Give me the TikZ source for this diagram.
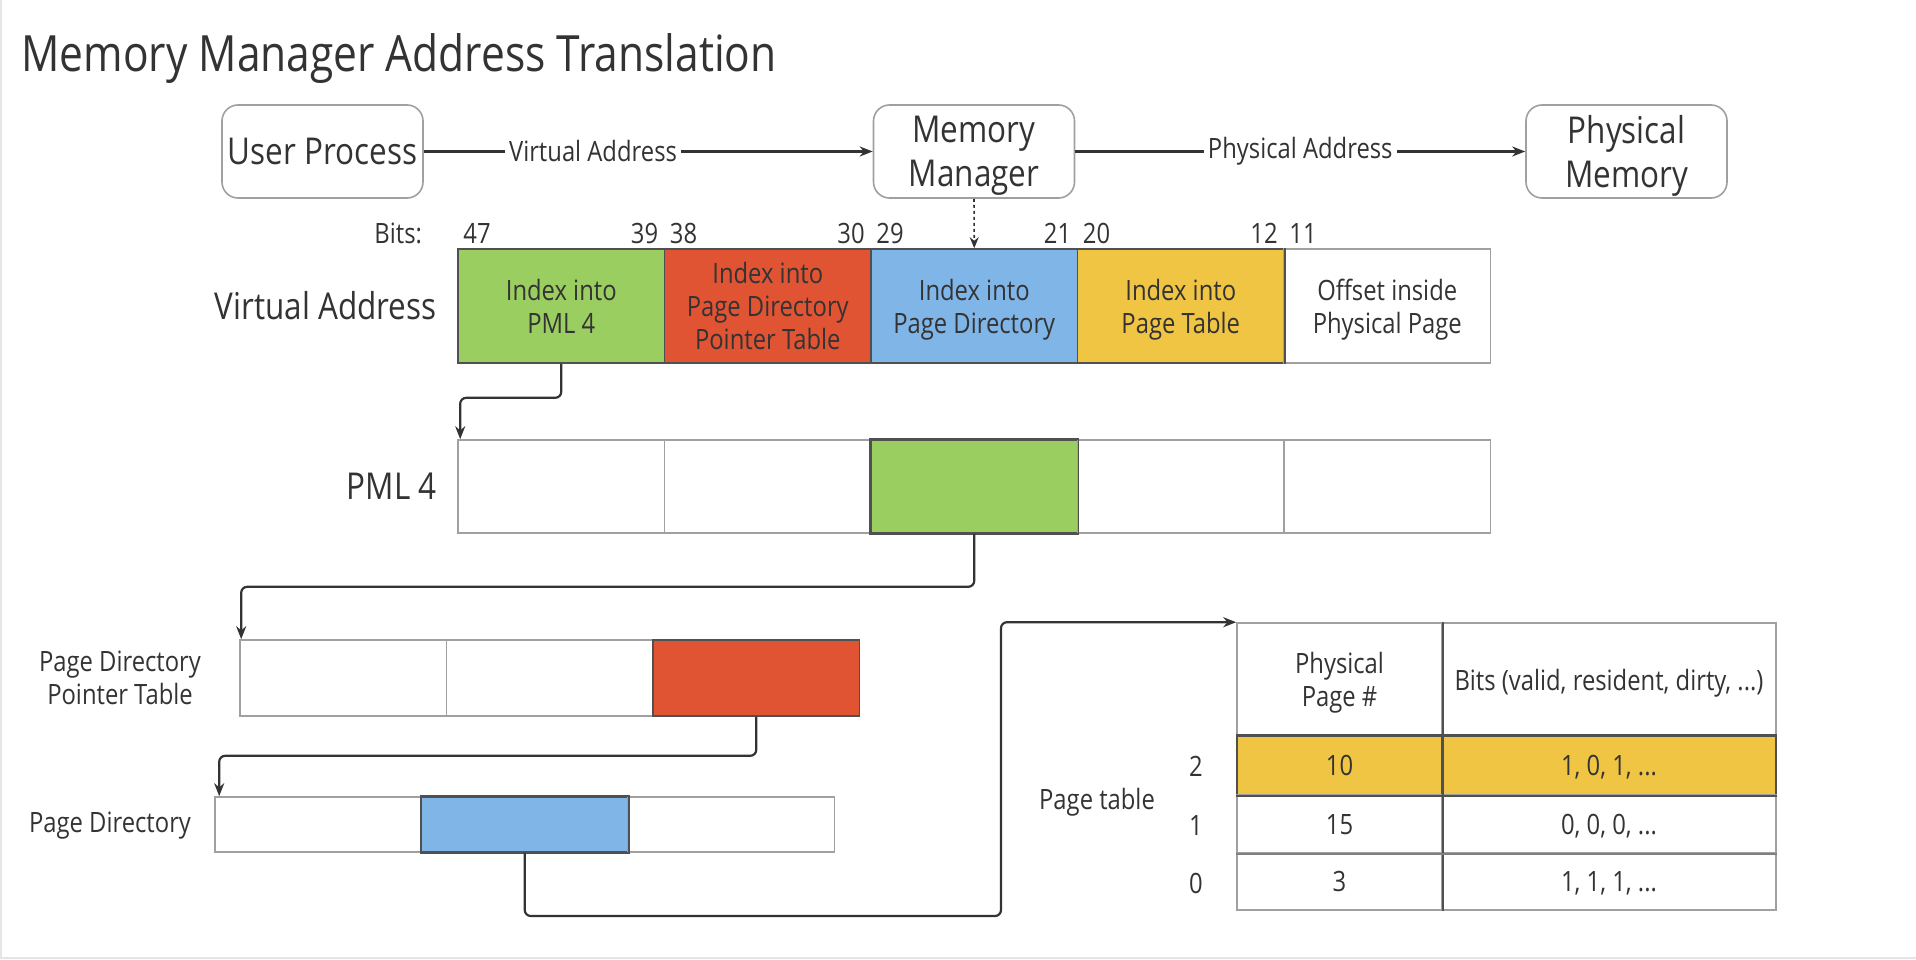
\documentclass[tikz,border=0pt]{standalone}
\usepackage{fontspec}
\setmainfont{Open Sans}[FakeStretch=0.85]
\usetikzlibrary{arrows.meta}
\definecolor{cgreen}{HTML}{9BCE60}
\definecolor{cred}{HTML}{E05434}
\definecolor{cblue}{HTML}{80B5E8}
\definecolor{cyellow}{HTML}{F1C544}
\definecolor{ink}{HTML}{333333}
\definecolor{wline}{HTML}{A0A0A0}
\definecolor{dline}{HTML}{505050}
\begin{document}
\begin{tikzpicture}[x=1pt,y=-1pt,
  small/.style={font=\fontsize{28}{33}\selectfont, text=ink},
  mid/.style={font=\fontsize{37}{44}\selectfont, text=ink},
  procbox/.style={draw=wline, line width=1.6pt, rounded corners=16pt, minimum width=201pt, minimum height=93pt, inner sep=0pt, align=center, text depth=0pt, mid},
  cellw/.style={draw=wline, line width=1.6pt, fill=white, inner sep=0pt, align=center, text depth=0pt, small},
  cellc/.style={draw=dline, line width=1.6pt, inner sep=0pt, align=center, text depth=0pt, small},
  vacell/.style={minimum width=206.5pt, minimum height=114pt},
  pmcell/.style={minimum width=206.5pt, minimum height=93pt},
  ptcell/.style={minimum width=206.5pt, minimum height=76pt},
  pdcell/.style={minimum width=206.5pt, minimum height=55pt},
  conn/.style={draw=ink, line width=2.2pt, rounded corners=6pt, -{Stealth[length=13pt,width=10pt]}},
  elab/.style={fill=white, inner sep=4pt, small},
  bitnum/.style={small, inner sep=0pt}
]
\useasboundingbox (0,0) rectangle (1916,960);
\draw[gray!20, line width=2pt] (1,0) -- (1,958) -- (1916,958);

\node[anchor=west, font=\fontsize{50}{60}\selectfont, text=ink] (title) at (18,59) {Memory Manager Address Translation};

% top process boxes
\node[procbox] (up) at (322.5,151.5) {User Process};
\node[procbox] (mm) at (974,151.5) {Memory\\Manager};
\node[procbox] (pm) at (1626.5,151.5) {Physical\\Memory};
\draw[conn, rounded corners=0pt] (up.east) -- node[elab, pos=0.377]{Virtual Address} (mm.west);
\draw[conn, rounded corners=0pt] (mm.east) -- node[elab]{Physical Address} (pm.west);

% virtual address row
\node[cellc, vacell, fill=cgreen] (va1) at (561.25,306) {Index into\\PML 4};
\node[cellc, vacell, fill=cred] (va2) at (767.75,306) {Index into\\Page Directory\\Pointer Table};
\node[cellc, vacell, fill=cblue] (va3) at (974.25,306) {Index into\\Page Directory};
\node[cellc, vacell, fill=cyellow] (va4) at (1180.75,306) {Index into\\Page Table};
\node[cellw, vacell] (va5) at (1387.25,306) {Offset inside\\Physical Page};
\draw[dline, line width=1.6pt] (va4.north east) -- (va4.south east);
\node[mid, anchor=east] (valab) at (440,306) {Virtual Address};

% bit numbers
\node[bitnum, anchor=base east] (bits) at ([xshift=-35pt,yshift=5pt]va1.north west) {Bits:};
\node[bitnum, anchor=base west] (b47) at ([xshift=6pt,yshift=5pt]va1.north west) {47};
\node[bitnum, anchor=base east] (b39) at ([xshift=-7pt,yshift=5pt]va1.north east) {39};
\node[bitnum, anchor=base west] (b38) at ([xshift=6pt,yshift=5pt]va2.north west) {38};
\node[bitnum, anchor=base east] (b30) at ([xshift=-7pt,yshift=5pt]va2.north east) {30};
\node[bitnum, anchor=base west] (b29) at ([xshift=6pt,yshift=5pt]va3.north west) {29};
\node[bitnum, anchor=base east] (b21) at ([xshift=-7pt,yshift=5pt]va3.north east) {21};
\node[bitnum, anchor=base west] (b20) at ([xshift=6pt,yshift=5pt]va4.north west) {20};
\node[bitnum, anchor=base east] (b12) at ([xshift=-7pt,yshift=5pt]va4.north east) {12};
\node[bitnum, anchor=base west] (b11) at ([xshift=6pt,yshift=5pt]va5.north west) {11};

\draw[draw=ink, line width=1.6pt, dash pattern=on 3pt off 3pt, -{Stealth[length=11pt,width=9pt]}] (mm.south) -- (va3.north);

% PML 4 row
\node[cellw, pmcell] (pml1) at (561.25,486.5) {};
\node[cellw, pmcell] (pml2) at (767.75,486.5) {};
\node[cellc, pmcell, fill=cgreen] (pml3) at (974.25,486.5) {};
\node[cellw, pmcell] (pml4) at (1180.75,486.5) {};
\node[cellw, pmcell] (pml5) at (1387.25,486.5) {};
\draw[dline, line width=1.6pt] (pml3.north west) rectangle (pml3.south east);
\node[mid, anchor=east] (pmllab) at (440,486.5) {PML 4};

% page directory pointer table
\node[cellw, ptcell] (pdpt1) at (343.25,678) {};
\node[cellw, ptcell] (pdpt2) at (549.75,678) {};
\node[cellc, ptcell, fill=cred] (pdpt3) at (756.25,678) {};
\node[small, align=center] (pdptlab) at (120,678) {Page Directory\\Pointer Table};

% page directory
\node[cellw, pdcell] (pd1) at (318.25,824.5) {};
\node[cellc, pdcell, fill=cblue] (pd2) at (524.75,824.5) {};
\node[cellw, pdcell] (pd3) at (731.25,824.5) {};
\draw[dline, line width=1.6pt] (pd2.north west) rectangle (pd2.south east);
\node[small] (pdlab) at (110,826) {Page Directory};

% page table
\node[cellw, minimum width=205pt, minimum height=113pt] (pth1) at (1339.5,679.5) {Physical\\Page \#};
\node[cellw, minimum width=334pt, minimum height=113pt] (pth2) at (1609,679.5) {Bits (valid, resident, dirty, ...)};
\node[cellc, fill=cyellow, minimum width=205pt, minimum height=59pt] (r2a) at (1339.5,765.5) {10};
\node[cellc, fill=cyellow, minimum width=334pt, minimum height=59pt] (r2b) at (1609,765.5) {1, 0, 1, ...};
\node[cellw, minimum width=205pt, minimum height=58pt] (r1a) at (1339.5,824) {15};
\node[cellw, minimum width=334pt, minimum height=58pt] (r1b) at (1609,824) {0, 0, 0, ...};
\node[cellw, minimum width=205pt, minimum height=57pt] (r0a) at (1339.5,881.5) {3};
\node[cellw, minimum width=334pt, minimum height=57pt] (r0b) at (1609,881.5) {1, 1, 1, ...};
\draw[dline, line width=1.6pt] (pth1.north east) -- (r0a.south east);
\draw[dline, line width=2.4pt] (r2a.north west) -- (r2b.north east);
\draw[dline, line width=2.4pt] (r2a.south west) -- (r2b.south east);
\draw[gray, line width=2.4pt] (r1a.south west) -- (r1b.south east);
\node[small] (i2) at (1196,766) {2};
\node[small] (i1) at (1196,825) {1};
\node[small] (i0) at (1196,883) {0};
\node[small] (ptlab) at (1097,802) {Page table};

% connectors
\draw[conn] (va1.south) -- ++(0,34) -| ([xshift=3pt]pml1.north west);
\draw[conn] (pml3.south) -- ++(0,53) -| ([xshift=2pt]pdpt1.north west);
\draw[conn] (pdpt3.south) -- ++(0,39) -| ([xshift=5pt]pd1.north west);
\coordinate (turn) at (1001,916);
\draw[conn] (pd2.south) |- (turn) |- (pth1.north west);
\end{tikzpicture}
\end{document}
